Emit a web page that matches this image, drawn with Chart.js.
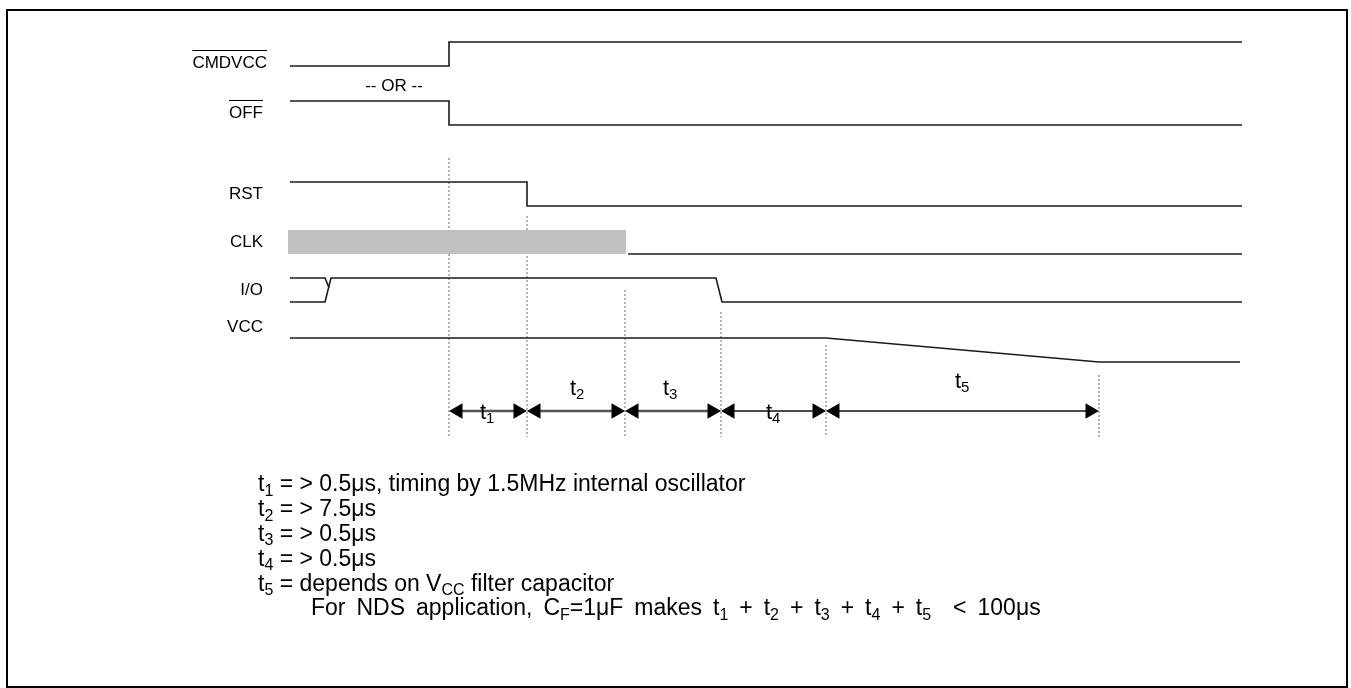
<!DOCTYPE html>
<html>
<head>
<meta charset="utf-8">
<script src="https://cdn.jsdelivr.net/npm/chart.js@4.4.0/dist/chart.umd.min.js"></script>
<style>
  html, body { margin: 0; padding: 0; background: #fff; }
  #wrap { width: 1351px; height: 688px; }
</style>
</head>
<body>
<div id="wrap"><canvas id="timing" width="1351" height="688"></canvas></div>
<script>
// signal names, top to bottom
const signalNames = ["CMDVCC", "OFF", "RST", "CLK", "I/O", "VCC"];
const overlined = [true, true, false, false, false, false];

// edge times (x units)
const markTimes = [449, 527, 625, 721, 826, 1099];
const markNames = ["1", "2", "3", "4", "5"];

// traces as [time, level], 0 = low, 1 = high
const cmdvccWave = [[290, 0], [449, 0], [449, 1], [1242, 1]];
const offWave = [[290, 1], [449, 1], [449, 0], [1242, 0]];
const rstWave = [[290, 1], [527, 1], [527, 0], [1242, 0]];
const clkActive = [288, 626];
const clkWave = [[628, 0], [1242, 0]];
const ioWave = [[290, 0], [325, 0], [331, 1], [716, 1], [722, 0], [1242, 0]];
const ioAltWave = [[290, 1], [325, 1], [329, 0.6]];
const vccWave = [[290, 1], [826, 1], [1099, 0], [1240, 0]];

const noteLines = [
  "t_{1} = > 0.5μs, timing by 1.5MHz internal oscillator",
  "t_{2} = > 7.5μs",
  "t_{3} = > 0.5μs",
  "t_{4} = > 0.5μs",
  "t_{5} = depends on V_{CC} filter capacitor",
  "For NDS application, C_{F}=1μF makes t_{1} + t_{2} + t_{3} + t_{4} + t_{5}  < 100μs"
];

// layout (pixels)
const rowLow = [66, 125, 206, 254, 302, 362];
const swing = 24;
const labelY = [63, 113, 194, 242, 290, 327];
const labelRight = [267, 263, 263, 263, 263, 263];
const markTop = [158, 216, 290, 312, 345, 375];
const markBottom = 437;
const arrowY = 411;
const tLabelPos = [[487, 413], [577, 389], [670, 389], [773, 413], [962, 382]];
const FONT = '"Liberation Sans", Arial, sans-serif';
const INK = '#1a1a1a';
const head = 9;

const wave = (pts, row) => pts.map(p => ({ x: p[0], y: rowLow[row] - p[1] * swing }));
const line = (data, extra) => Object.assign({
  data, showLine: true, borderColor: INK, borderWidth: 1.6, pointRadius: 0, fill: false, tension: 0
}, extra || {});

const datasets = [
  line(wave(cmdvccWave, 0)),
  line(wave(offWave, 1)),
  line(wave(rstWave, 2)),
  line(wave([[clkActive[0], 1], [clkActive[1], 1]], 3), { borderWidth: 0, fill: '+1', backgroundColor: '#c0c0c0' }),
  line(wave([[clkActive[0], 0], [clkActive[1], 0]], 3), { borderWidth: 0 }),
  line(wave(clkWave, 3)),
  line(wave(ioWave, 4)),
  line(wave(ioAltWave, 4)),
  line(wave(vccWave, 5))
];

markTimes.forEach((t, i) => {
  datasets.push(line([{ x: t, y: markTop[i] }, { x: t, y: markBottom }],
    { borderColor: '#666', borderWidth: 1, borderDash: [2, 2] }));
});

for (let i = 0; i < markTimes.length - 1; i++) {
  const heavy = i < 3;
  datasets.push(line([{ x: markTimes[i] + head, y: arrowY }, { x: markTimes[i + 1] - head, y: arrowY }], {
    borderColor: heavy ? '#555' : '#111',
    borderWidth: heavy ? 2.5 : 1.3,
    pointRadius: head,
    pointStyle: 'triangle',
    pointRotation: [270, 90],
    pointBackgroundColor: '#000',
    pointBorderColor: '#000',
    pointBorderWidth: 0
  }));
}

// draws "t_{1}" style strings with subscripts
function richText(ctx, str, x, y, size, gap) {
  const parts = str.split(/(_\{[^}]*\})/).filter(s => s.length);
  let cx = x;
  parts.forEach(p => {
    if (p.startsWith('_{')) {
      const s = p.slice(2, -1);
      ctx.font = Math.round(size * 0.68) + 'px ' + FONT;
      ctx.fillText(s, cx, y + size * 0.28);
      cx += ctx.measureText(s).width;
    } else {
      ctx.font = size + 'px ' + FONT;
      p.split(' ').forEach((w, k) => {
        if (k > 0) cx += ctx.measureText(' ').width + (gap || 0);
        ctx.fillText(w, cx, y);
        cx += ctx.measureText(w).width;
      });
    }
  });
}

const decor = {
  id: 'decor',
  afterDraw(chart) {
    const ctx = chart.ctx;
    ctx.save();
    ctx.strokeStyle = '#000';
    ctx.lineWidth = 2;
    ctx.strokeRect(7, 10, 1340, 677);

    ctx.fillStyle = '#000';
    ctx.textBaseline = 'middle';
    ctx.font = '17px ' + FONT;
    signalNames.forEach((name, i) => {
      ctx.textAlign = 'right';
      ctx.fillText(name, labelRight[i], labelY[i]);
      if (overlined[i]) {
        const w = ctx.measureText(name).width;
        ctx.lineWidth = 1;
        ctx.beginPath();
        ctx.moveTo(labelRight[i] - w, labelY[i] - 12.5);
        ctx.lineTo(labelRight[i], labelY[i] - 12.5);
        ctx.stroke();
      }
    });
    ctx.textAlign = 'center';
    ctx.fillText('-- OR --', 394, 86);

    ctx.textAlign = 'left';
    markNames.forEach((n, i) => {
      const [x, y] = tLabelPos[i];
      richText(ctx, 't_{' + n + '}', x - 7, y, 22);
    });

    noteLines.forEach((s, i) => {
      richText(ctx, s, i === 5 ? 311 : 258, 485 + i * 24.8, 23, i === 5 ? 4.6 : 0);
    });
    ctx.restore();
  }
};

const chart = new Chart(document.getElementById('timing'), {
  type: 'scatter',
  data: { datasets },
  options: {
    responsive: false,
    animation: false,
    devicePixelRatio: 1,
    layout: { padding: 0 },
    plugins: { legend: { display: false }, tooltip: { enabled: false } },
    scales: {
      x: { type: 'linear', min: 0, max: 1351, display: false },
      y: { type: 'linear', min: 0, max: 688, reverse: true, display: false }
    }
  },
  plugins: [decor]
});

// make the hidden scales read in canvas pixels, whatever padding the points add
const area = chart.chartArea;
chart.options.scales.x.min = area.left;
chart.options.scales.x.max = area.right;
chart.options.scales.y.min = area.top;
chart.options.scales.y.max = area.bottom;
chart.update();
</script>
</body>
</html>
